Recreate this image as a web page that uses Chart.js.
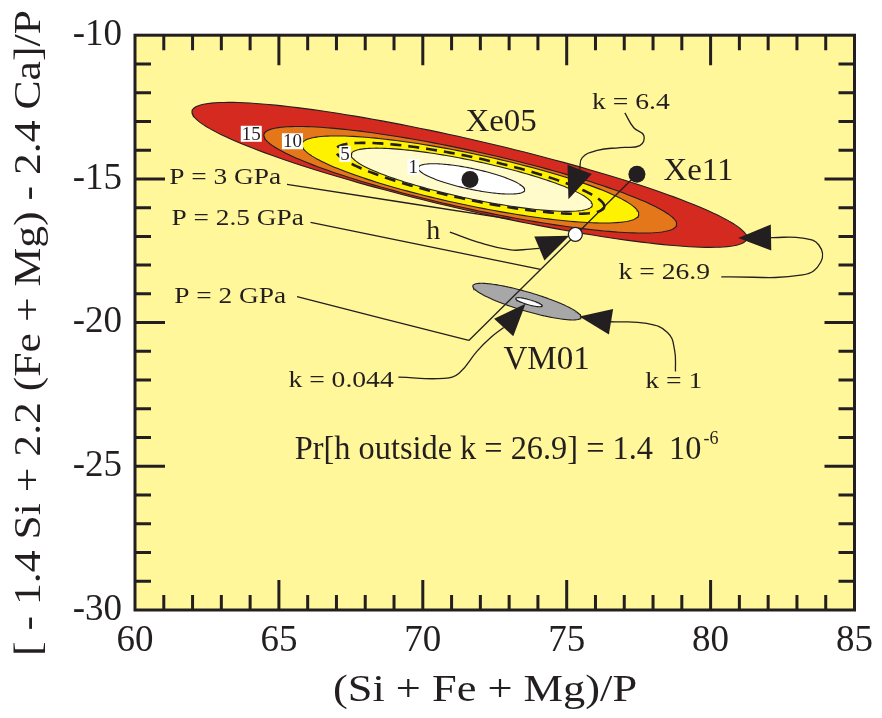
<!DOCTYPE html>
<html><head><meta charset="utf-8">
<script src="https://cdn.jsdelivr.net/npm/chart.js@4"></script>
<style>html,body{margin:0;padding:0;background:#fff}#wrap{width:882px;height:718px}</style>
</head><body><div id="wrap"><canvas id="c" width="882" height="718"></canvas></div>
<script>
// ---------------- data ----------------
const xRange = [60, 85];
const yRange = [-30, -10];
const xTickLabels = [60, 65, 70, 75, 80, 85];
const yTickLabels = [-10, -15, -20, -25, -30];

// Xe05 probability contours (k values), ellipse parameters in data units
const contourNames = ['k=26.9', 'k=15', 'k=10', 'k=5', 'k=6.4', 'k=1'];
const contourCx = [71.62, 71.65, 71.65, 71.70, 71.64, 71.69];
const contourCy = [-14.86, -15.03, -15.02, -15.03, -14.98, -15.00];
const contourSemiMajor = [9.89, 7.34, 5.98, 4.28, 4.77, 1.89];
const contourSemiMinor = [1.22, 1.00, 0.90, 0.66, 0.74, 0.36];
const contourTilt = [13.0, 12.4, 11.9, 12.0, 12.1, 12.0];

// VM01 contours
const vmNames = ['k=1', 'k=0.044'];
const vmCx = [73.62, 73.69];
const vmCy = [-19.27, -19.29];
const vmSemiMajor = [1.96, 0.48];
const vmSemiMinor = [0.33, 0.09];
const vmTilt = [16.4, 16.0];

// sample points
const sampleNames = ['Xe05', 'Xe11'];
const sampleX = [71.64, 77.44];
const sampleY = [-15.02, -14.84];
const hPoint = [75.30, -16.93];
// pressure trajectory from Xe11
const trajX = [77.44, 71.60];
const trajY = [-14.84, -20.62];

// leader curves (data coordinates)
const leaderP3X = [65.28, 73.05];
const leaderP3Y = [-15.19, -16.40];
const leaderP25X = [66.10, 74.09];
const leaderP25Y = [-16.51, -18.15];
const leaderP2X = [65.63, 71.60];
const leaderP2Y = [-19.10, -20.62];
const leaderHX = [70.94, 71.91, 73.05, 73.74, 74.05];
const leaderHY = [-16.85, -17.20, -17.47, -17.44, -17.42];
const leaderK64X = [77.02, 77.33, 77.68, 77.54, 76.85, 76.06, 75.54, 75.45];
const leaderK64Y = [-12.70, -13.22, -13.49, -13.84, -13.91, -14.01, -14.26, -14.67];
const leaderK269X = [80.37, 83.20, 83.83, 83.76, 83.20, 82.10];
const leaderK269Y = [-18.41, -18.34, -17.89, -17.30, -17.06, -17.04];
const leaderK1X = [78.78, 78.75, 78.51, 77.78, 76.54];
const leaderK1Y = [-21.70, -20.97, -20.35, -20.03, -19.97];
const leaderK0044X = [69.15, 70.74, 71.26, 71.88, 72.36, 72.81];
const leaderK0044Y = [-21.90, -21.94, -21.76, -21.00, -20.52, -20.17];

// arrowheads: tip and base-centre (data coordinates)
const arrowTipX = [75.09, 75.06, 80.96, 75.44, 73.57];
const arrowTipY = [-16.98, -15.71, -17.06, -19.79, -19.34];
const arrowBaseX = [74.05, 75.45, 82.10, 76.54, 72.81];
const arrowBaseY = [-17.42, -14.67, -17.04, -19.97, -20.17];

// text annotations (data coordinates)
const noteText = ['Xe05', 'Xe11', 'VM01', 'k = 6.4', 'k = 26.9', 'k = 1', 'k = 0.044', 'P = 3 GPa', 'P = 2.5 GPa', 'P = 2 GPa', 'h'];
const noteX = [72.72, 79.58, 74.30, 77.23, 78.39, 78.72, 67.16, 65.08, 65.87, 65.25, 70.36];
const noteY = [-13.03, -14.74, -21.33, -12.35, -18.27, -22.04, -22.01, -14.95, -16.37, -19.10, -16.82];
const contourLabelText = ['15', '10', '5', '1'];
const contourLabelX = [64.04, 65.47, 67.30, 69.67];
const contourLabelY = [-13.43, -13.69, -14.13, -14.58];
const probText = 'Pr[h outside k = 26.9] = 1.4  10';
const probExp = '-6';
const probAnchor = [79.68, -24.43];

// ---------------- styles ----------------
const INK = '#231f20';
const PLOT_BG = '#fff799';
const contourFill = ['#d52a1f', '#e5771b', '#fff200', '#fffbcb', null, '#ffffff'];
const vmFill = ['#a7a7a7', '#ffffff'];
const SERIF = '"Liberation Serif", "Times New Roman", serif';
const noteStyle = [
  {size: 32, align: 'center', sx: 1.03}, {size: 32, align: 'center', sx: 1.03}, {size: 33, align: 'center', sx: 1.0},
  {size: 24, align: 'center', sx: 1.15}, {size: 24, align: 'center', sx: 1.15}, {size: 24, align: 'center', sx: 1.15},
  {size: 24, align: 'center', sx: 1.15}, {size: 24, align: 'right', sx: 1.14}, {size: 24, align: 'right', sx: 1.14},
  {size: 24, align: 'right', sx: 1.14}, {size: 28, align: 'center', sx: 1.0}
];

function ellipsePoints(cx, cy, a, b, tiltDeg) {
  const t = tiltDeg * Math.PI / 180, n = 180, pts = [];
  for (let i = 0; i <= n; i++) {
    const s = 2 * Math.PI * i / n;
    const u = a * Math.cos(s), v = b * Math.sin(s);
    pts.push({x: cx + u * Math.cos(t) + v * Math.sin(t), y: cy - u * Math.sin(t) + v * Math.cos(t)});
  }
  return pts;
}
const zip = (xs, ys) => xs.map((x, i) => ({x, y: ys[i]}));

const datasets = [];
contourNames.forEach((name, i) => {
  const dashed = contourFill[i] === null;
  datasets.push({
    label: 'Xe05 ' + name, data: ellipsePoints(contourCx[i], contourCy[i], contourSemiMajor[i], contourSemiMinor[i], contourTilt[i]),
    showLine: true, pointRadius: 0, tension: 0,
    borderColor: INK, borderWidth: dashed ? 2.6 : 1.1, borderDash: dashed ? [11, 7] : [],
    backgroundColor: dashed ? 'rgba(0,0,0,0)' : contourFill[i], fill: dashed ? false : 'shape', order: 60 - i
  });
});
vmNames.forEach((name, i) => {
  datasets.push({
    label: 'VM01 ' + name, data: ellipsePoints(vmCx[i], vmCy[i], vmSemiMajor[i], vmSemiMinor[i], vmTilt[i]),
    showLine: true, pointRadius: 0, tension: 0, borderColor: INK, borderWidth: 1.1,
    backgroundColor: vmFill[i], fill: 'shape', order: 50 - i
  });
});
datasets.push({label: 'trajectory', data: zip(trajX, trajY), showLine: true, pointRadius: 0, borderColor: INK, borderWidth: 1.3, order: 10});
[[leaderP3X, leaderP3Y], [leaderP25X, leaderP25Y], [leaderP2X, leaderP2Y], [leaderHX, leaderHY], [leaderK64X, leaderK64Y],
 [leaderK269X, leaderK269Y], [leaderK1X, leaderK1Y], [leaderK0044X, leaderK0044Y]].forEach((l, i) => {
  datasets.push({label: 'leader' + i, data: zip(l[0], l[1]), showLine: true, pointRadius: 0, tension: 0.45,
    borderColor: INK, borderWidth: 1.3, fill: false, order: 8});
});
datasets.push({label: 'samples', data: zip(sampleX, sampleY), showLine: false, pointRadius: 8.5,
  pointBackgroundColor: INK, pointBorderColor: INK, pointBorderWidth: 0, order: 2});
datasets.push({label: 'h', data: [{x: hPoint[0], y: hPoint[1]}], showLine: false, pointRadius: 7,
  pointBackgroundColor: '#ffffff', pointBorderColor: INK, pointBorderWidth: 1.3, order: 1});

function drawText(ctx, text, px, py, size, align, sx, rot) {
  ctx.save();
  ctx.translate(px, py);
  if (rot) ctx.rotate(rot);
  ctx.scale(sx || 1, 1);
  ctx.font = size + 'px ' + SERIF;
  ctx.textAlign = align; ctx.textBaseline = 'middle'; ctx.fillStyle = INK;
  ctx.fillText(text, 0, 0);
  ctx.restore();
}

const bgPlugin = {
  id: 'bg',
  beforeDraw(chart) {
    const {ctx, chartArea: a} = chart;
    ctx.save();
    ctx.fillStyle = '#ffffff'; ctx.fillRect(0, 0, chart.width, chart.height);
    ctx.fillStyle = PLOT_BG; ctx.fillRect(a.left, a.top, a.right - a.left, a.bottom - a.top);
    ctx.restore();
  }
};

const decorPlugin = {
  id: 'decor',
  afterDatasetsDraw(chart) {
    const {ctx, chartArea: a, scales: {x, y}} = chart;
    // arrowheads
    ctx.save();
    ctx.fillStyle = INK;
    arrowTipX.forEach((tx, i) => {
      const px = x.getPixelForValue(tx), py = y.getPixelForValue(arrowTipY[i]);
      const bx = x.getPixelForValue(arrowBaseX[i]), by = y.getPixelForValue(arrowBaseY[i]);
      const dx = px - bx, dy = py - by, L = Math.hypot(dx, dy), nx = -dy / L, ny = dx / L, hw = 13;
      ctx.beginPath();
      ctx.moveTo(px, py);
      ctx.lineTo(bx + nx * hw, by + ny * hw);
      ctx.lineTo(bx - nx * hw, by - ny * hw);
      ctx.closePath(); ctx.fill();
    });
    ctx.restore();
    // contour labels with white boxes
    ctx.save();
    ctx.font = '19px ' + SERIF;
    contourLabelText.forEach((t, i) => {
      const px = x.getPixelForValue(contourLabelX[i]), py = y.getPixelForValue(contourLabelY[i]);
      const w = ctx.measureText(t).width;
      ctx.fillStyle = '#ffffff';
      ctx.fillRect(px - w / 2 - 1, py - 8, w + 2, 16);
      drawText(ctx, t, px, py + 1, 19, 'center', 1);
    });
    ctx.restore();
    // annotations
    noteText.forEach((t, i) => {
      const s = noteStyle[i];
      drawText(ctx, t, x.getPixelForValue(noteX[i]), y.getPixelForValue(noteY[i]), s.size, s.align, s.sx);
    });
    const ppx = x.getPixelForValue(probAnchor[0]), ppy = y.getPixelForValue(probAnchor[1]);
    drawText(ctx, probText, ppx, ppy, 33, 'right', 0.98);
    drawText(ctx, probExp, ppx + 2, ppy - 11, 18, 'left', 1.0);
    // ticks (inward) and frame
    ctx.save();
    ctx.strokeStyle = INK; ctx.lineWidth = 3; ctx.lineCap = 'butt';
    ctx.beginPath();
    x.ticks.forEach(t => {
      if (t.value <= xRange[0] || t.value >= xRange[1]) return;
      const p = x.getPixelForValue(t.value), len = xTickLabels.includes(t.value) ? 30 : 15;
      ctx.moveTo(p, a.bottom); ctx.lineTo(p, a.bottom - len);
      ctx.moveTo(p, a.top); ctx.lineTo(p, a.top + len);
    });
    y.ticks.forEach(t => {
      if (t.value <= yRange[0] || t.value >= yRange[1]) return;
      const p = y.getPixelForValue(t.value), len = yTickLabels.includes(t.value) ? 30 : 16;
      ctx.moveTo(a.left, p); ctx.lineTo(a.left + len, p);
      ctx.moveTo(a.right, p); ctx.lineTo(a.right - len, p);
    });
    ctx.stroke();
    ctx.strokeRect(a.left, a.top, a.right - a.left, a.bottom - a.top);
    ctx.restore();
  },
  afterDraw(chart) {
    const {ctx} = chart;
    drawText(ctx, '(Si + Fe + Mg)/P', 485, 691, 37, 'center', 1.2);
    drawText(ctx, '[ - 1.4 Si + 2.2 (Fe + Mg) - 2.4 Ca]/P', 30, 333, 37, 'center', 1.18, -Math.PI / 2);
  }
};

new Chart(document.getElementById('c'), {
  type: 'scatter',
  data: {datasets},
  options: {
    responsive: false, animation: false, devicePixelRatio: 1,
    layout: {padding: {top: 32, right: 23, left: 0, bottom: 0}},
    plugins: {legend: {display: false}, tooltip: {enabled: false}},
    scales: {
      x: {
        type: 'linear', min: xRange[0], max: xRange[1],
        afterFit: s => { s.height = 108; },
        grid: {display: false, drawTicks: false}, border: {display: false},
        ticks: {stepSize: 1, autoSkip: false, maxRotation: 0, padding: 9, color: INK,
          font: {family: SERIF, size: 37}, callback: v => xTickLabels.includes(v) ? String(v) : ''}
      },
      y: {
        type: 'linear', min: yRange[0], max: yRange[1],
        afterFit: s => { s.width = 135; },
        grid: {display: false, drawTicks: false}, border: {display: false},
        ticks: {stepSize: 1, autoSkip: false, padding: 13, color: INK,
          font: {family: SERIF, size: 37}, callback: v => yTickLabels.includes(v) ? String(v) : ''}
      }
    }
  },
  plugins: [bgPlugin, decorPlugin]
});
</script></body></html>
